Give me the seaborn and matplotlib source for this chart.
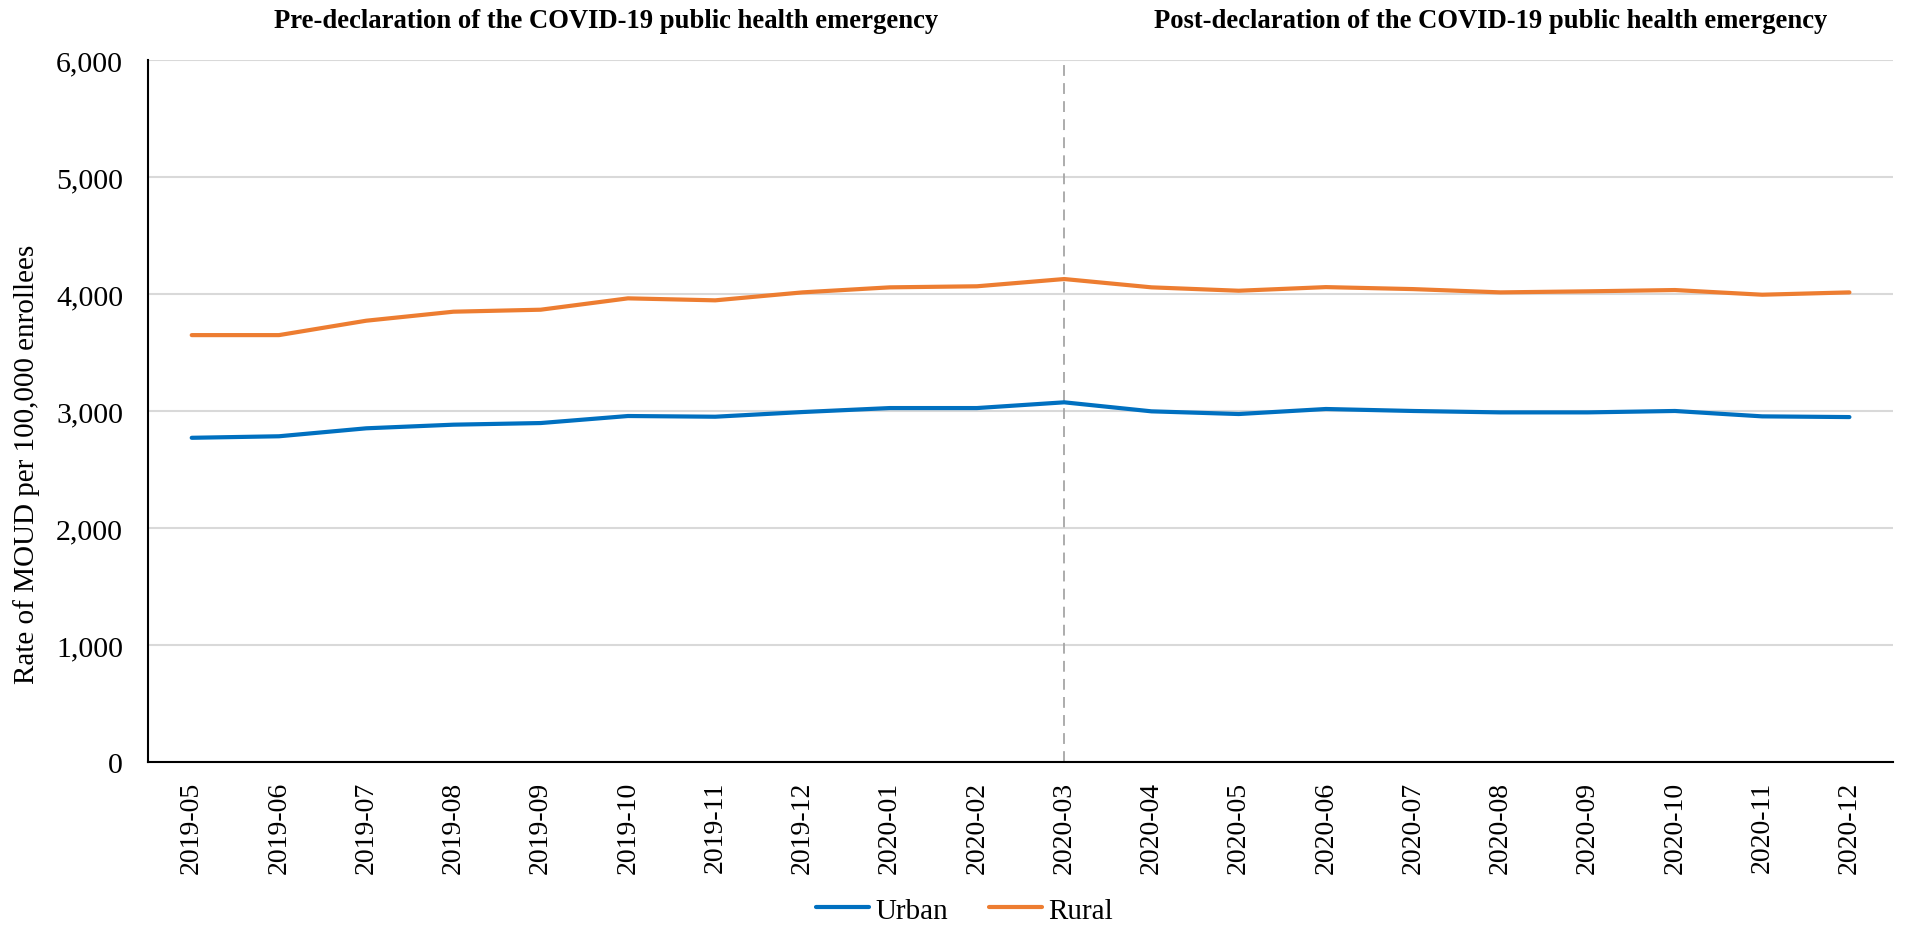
import matplotlib
matplotlib.use("Agg")
import matplotlib.pyplot as plt
import matplotlib.ticker as mticker
import pandas as pd
import seaborn as sns

months = ["2019-05", "2019-06", "2019-07", "2019-08", "2019-09", "2019-10",
          "2019-11", "2019-12", "2020-01", "2020-02", "2020-03", "2020-04",
          "2020-05", "2020-06", "2020-07", "2020-08", "2020-09", "2020-10",
          "2020-11", "2020-12"]
urban = [2773, 2786, 2854, 2885, 2899, 2959, 2953, 2993, 3027, 3027, 3076,
         2999, 2976, 3019, 3002, 2990, 2990, 3002, 2956, 2950]
rural = [3650, 3650, 3773, 3850, 3867, 3964, 3947, 4015, 4058, 4067, 4129,
         4058, 4029, 4060, 4043, 4015, 4024, 4035, 3995, 4015]
declaration = "2020-03"

df = pd.DataFrame({
    "month": months * 2,
    "rate": urban + rural,
    "area": ["Urban"] * len(months) + ["Rural"] * len(months),
})

sns.set_style("white")
plt.rcParams["font.family"] = ["Liberation Serif", "DejaVu Serif"]
plt.rcParams.update({"text.color": "black", "axes.labelcolor": "black",
                     "xtick.color": "black", "ytick.color": "black"})

fig = plt.figure(figsize=(19.06, 9.28), dpi=100)
ax = fig.add_axes([0.0777, 0.1773, 0.9155, 0.757])

sns.lineplot(data=df, x="month", y="rate", hue="area", sort=False,
             palette={"Urban": "#0070C0", "Rural": "#ED7D31"},
             linewidth=3, ax=ax)

ax.set_xlim(-0.5, len(months) - 0.5)
ax.set_ylim(0, 6000)
ax.yaxis.set_major_locator(mticker.MultipleLocator(1000))
ax.yaxis.set_major_formatter(mticker.FuncFormatter(lambda v, p: f"{v:,.0f}"))
ax.grid(axis="y", color="#D9D9D9", linewidth=1.5)
ax.set_axisbelow(True)

# vertical marker at the emergency declaration
ax.axvline(months.index(declaration), color="#A6A6A6", linestyle=(0, (6, 4)),
           linewidth=1.3, zorder=1)

for s in ["top", "right"]:
    ax.spines[s].set_visible(False)
for s in ["left", "bottom"]:
    ax.spines[s].set_color("black")
    ax.spines[s].set_linewidth(1.5)

ax.tick_params(axis="x", labelsize=20, rotation=90, length=0, pad=13)
ax.tick_params(axis="y", labelsize=21.5, length=0, pad=18)
ax.set_xlabel("")
ax.set_ylabel("Rate of MOUD per 100,000 enrollees", fontsize=21)
ax.yaxis.set_label_coords(-0.062, 0.426)

fig.text(0.318, 0.977, "Pre-declaration of the COVID-19 public health emergency",
         ha="center", va="center", fontsize=19.2, fontweight="bold")
fig.text(0.782, 0.977, "Post-declaration of the COVID-19 public health emergency",
         ha="center", va="center", fontsize=19.2, fontweight="bold")

handles, labels = ax.get_legend_handles_labels()
ax.legend(handles, labels, loc="center", bbox_to_anchor=(0.506, 0.018),
          bbox_transform=fig.transFigure, ncol=2, frameon=False,
          fontsize=21, handlelength=1.83, columnspacing=1.4, handletextpad=0.2)

fig.savefig("out.png", dpi=100)
